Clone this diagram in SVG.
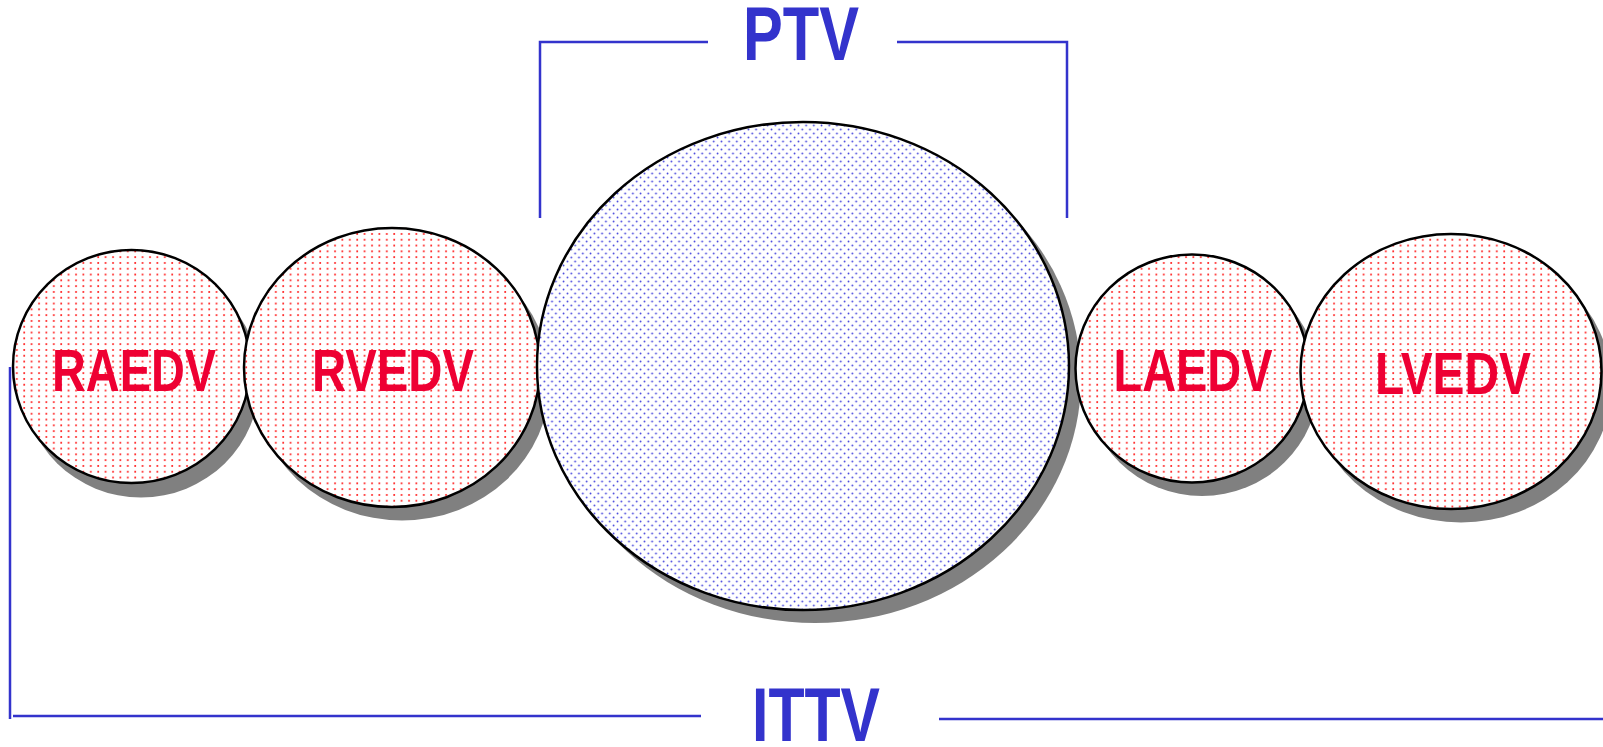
<svg xmlns="http://www.w3.org/2000/svg" width="1603" height="747" viewBox="0 0 1603 747">
<defs>
<pattern id="redDots" width="7.4" height="5.8" patternUnits="userSpaceOnUse">
<rect width="7.4" height="5.8" fill="#ffffff"/>
<circle cx="2" cy="2" r="1" fill="#ff1a1a"/>
</pattern>
<pattern id="blueDots" width="7.7" height="8" patternUnits="userSpaceOnUse">
<rect width="7.7" height="8" fill="#ffffff"/>
<circle cx="1.5" cy="1.5" r="0.9" fill="#4848dd"/>
<circle cx="5.35" cy="5.5" r="0.9" fill="#4848dd"/>
</pattern>
</defs>
<style>
.shadow{fill:#808080;}
.red{fill:url(#redDots);stroke:#000;stroke-width:2.5;}
.blue{fill:url(#blueDots);stroke:#000;stroke-width:2.5;}
.lbl{font-family:"Liberation Sans",Arial,sans-serif;font-weight:bold;fill:#ee0033;font-size:60px;text-anchor:middle;}
.big{font-family:"Liberation Sans",Arial,sans-serif;font-weight:bold;fill:#3333cc;font-size:76px;text-anchor:middle;}
.br{fill:none;stroke:#3333cc;stroke-width:2.5;}
</style>
<g id="shadows">
<ellipse class="shadow" cx="141" cy="381" rx="118.5" ry="116.5"/>
<ellipse class="shadow" cx="402" cy="381" rx="148" ry="139.5"/>
<ellipse class="shadow" cx="815" cy="379" rx="266" ry="244"/>
<ellipse class="shadow" cx="1202" cy="382" rx="116.5" ry="114"/>
<ellipse class="shadow" cx="1461" cy="385" rx="150.5" ry="137.5"/>
</g>
<g id="RAEDV">
<ellipse class="red" cx="131.5" cy="366.5" rx="118.5" ry="116.5"/>
<text class="lbl" x="134" y="391" textLength="164" lengthAdjust="spacingAndGlyphs">RAEDV</text>
</g>
<g id="RVEDV">
<ellipse class="red" cx="392" cy="367.5" rx="148" ry="139.5"/>
<text class="lbl" x="393" y="391" textLength="162" lengthAdjust="spacingAndGlyphs">RVEDV</text>
</g>
<g id="PTV-volume">
<ellipse class="blue" cx="803" cy="366" rx="266" ry="244"/>
</g>
<g id="LAEDV">
<ellipse class="red" cx="1192" cy="368.5" rx="116.5" ry="114"/>
<text class="lbl" x="1193" y="391" textLength="159" lengthAdjust="spacingAndGlyphs">LAEDV</text>
</g>
<g id="LVEDV">
<ellipse class="red" cx="1451" cy="371.5" rx="150.5" ry="137.5"/>
<text class="lbl" x="1453" y="394" textLength="156" lengthAdjust="spacingAndGlyphs">LVEDV</text>
</g>
<g id="connectors">
<polyline class="br" points="540,218 540,42 708,42"/>
<polyline class="br" points="897,42 1067,42 1067,218"/>
<polyline class="br" points="10,367 10,719"/>
<line class="br" x1="13" y1="716" x2="701" y2="716" stroke-width="3"/>
<line class="br" x1="939" y1="719" x2="1603" y2="719" stroke-width="3"/>
</g>
<g id="PTV">
<text class="big" x="801" y="60" textLength="116" lengthAdjust="spacingAndGlyphs">PTV</text>
</g>
<g id="ITTV">
<text class="big" x="816" y="741" font-size="74" textLength="128" lengthAdjust="spacingAndGlyphs">ITTV</text>
</g>
</svg>
